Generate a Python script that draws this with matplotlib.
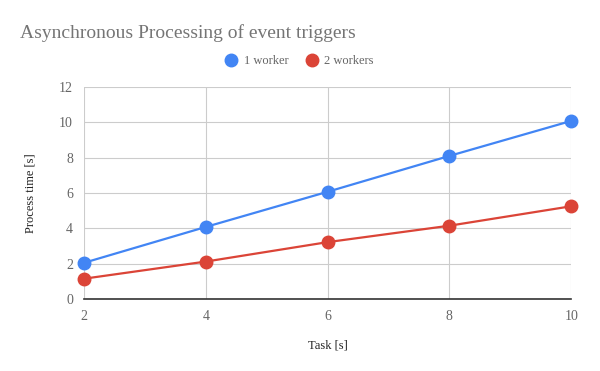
import matplotlib.pyplot as plt

# Данные
tasks = [2, 4, 6, 8, 10]
one_worker = [2.05, 4.08, 6.07, 8.1, 10.08]
two_workers = [1.15, 2.12, 3.22, 4.15, 5.25]
yticks = [0, 2, 4, 6, 8, 10, 12]

plt.rcParams['font.family'] = ['Liberation Serif', 'DejaVu Serif']

fig = plt.figure(figsize=(6, 3.71), dpi=100)
ax = fig.add_axes([0.14, 0.194, 0.812, 0.5715])

ax.plot(tasks, one_worker, color='#4285f4', lw=1.6, marker='o', ms=9,
        label='1 worker', zorder=3, clip_on=False)
ax.plot(tasks, two_workers, color='#db4437', lw=1.6, marker='o', ms=9,
        label='2 workers', zorder=3, clip_on=False)

ax.set_xlim(2, 10)
ax.set_ylim(0, 12)
ax.set_xticks(tasks)
ax.set_yticks(yticks)
ax.grid(True, color='#cccccc', lw=0.8)
ax.set_axisbelow(True)
for s in ['top', 'right', 'left']:
    ax.spines[s].set_visible(False)
ax.spines['bottom'].set_color('#333333')
ax.spines['bottom'].set_linewidth(1.2)
ax.spines['bottom'].set_zorder(2)
ax.tick_params(length=0, labelsize=10, colors='#666666', pad=8)
ax.set_xlabel('Task [s]', fontsize=9, color='#222222', labelpad=12)
ax.set_ylabel('Process time [s]', fontsize=9, color='#222222', labelpad=16)

fig.text(0.033, 0.91, 'Asynchronous Processing of event triggers', fontsize=14,
         color='#757575', va='center', ha='left')
leg = fig.legend(loc='center', bbox_to_anchor=(0.5, 0.835), ncol=2, frameon=False,
                 fontsize=9, handlelength=0.8, handletextpad=0.6, columnspacing=1.5,
                 markerscale=1.0)
for t in leg.get_texts():
    t.set_color('#666666')
for h in leg.legend_handles:
    h.set_linestyle('none')

fig.savefig('out.png', dpi=100)
plt.close()
